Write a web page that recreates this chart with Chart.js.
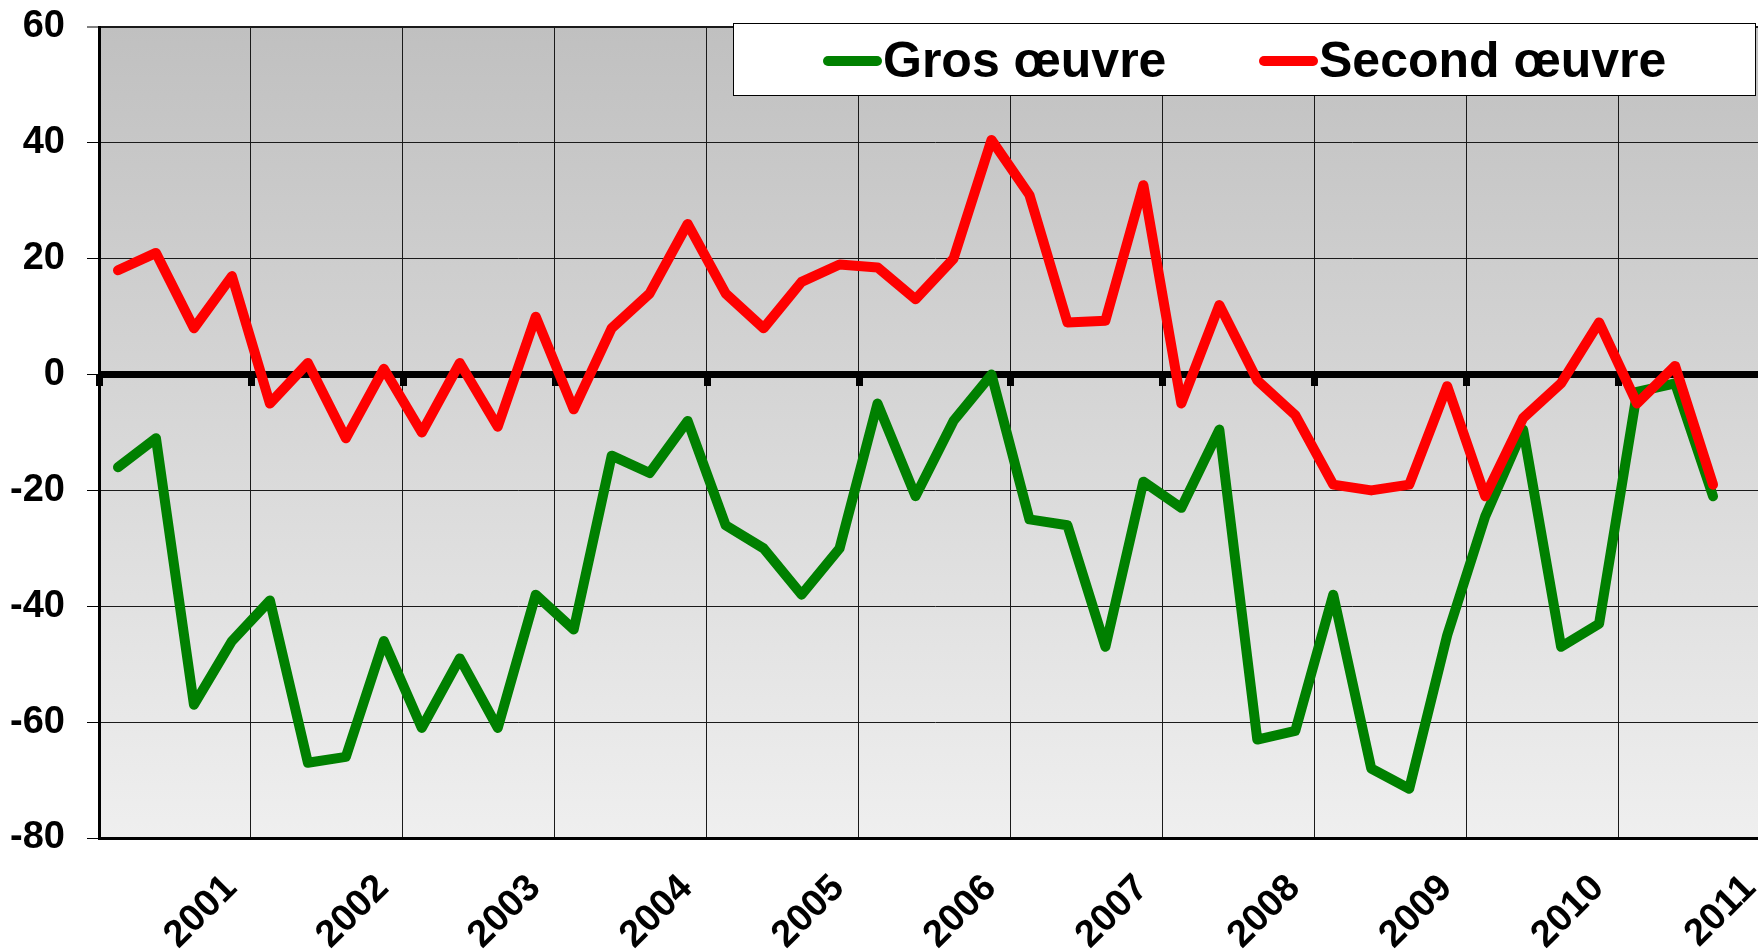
<!DOCTYPE html>
<html lang="fr">
<head>
<meta charset="utf-8">
<title>Gros œuvre / Second œuvre</title>
<script src="https://cdn.jsdelivr.net/npm/chart.js@4.4.1/dist/chart.umd.min.js"></script>
<style>
  html, body { margin: 0; padding: 0; background: #fff; overflow: hidden; width: 1758px; height: 951px; }
  #wrap { position: relative; width: 1758px; height: 951px; overflow: hidden; }
  #chart { position: absolute; left: 0; top: 0; }
  #legend {
    position: absolute; left: 733px; top: 23px; width: 1021px; height: 71px;
    border: 1px solid #000; background: #fff;
    font-family: "Liberation Sans", Arial, sans-serif; font-weight: bold; font-size: 50px; color: #000;
  }
  .swatch { position: absolute; top: 32px; width: 59px; height: 10px; border-radius: 5px; }
  .label { position: absolute; top: 11px; line-height: 50px; white-space: nowrap; }
</style>
</head>
<body>
<div id="wrap">
  <canvas id="chart" width="1770" height="951"></canvas>
  <div id="legend"></div>
</div>
<script>
// Quarterly balance of opinion, first quarter of 2000 onwards
const firstYear = 2000;
const lastYear = 2011;
const quartersPerYear = 4;

const yearLabels = ['2001', '2002', '2003', '2004', '2005', '2006', '2007', '2008', '2009', '2010', '2011'];

const seriesNames = ['Gros œuvre', 'Second œuvre'];
const seriesColors = ['#008000', '#ff0000'];

const grosOeuvre = [
  -16, -11, -57, -46,
  -39, -67, -66, -46,
  -61, -49, -61, -38,
  -44, -14, -17, -8,
  -26, -30, -38, -30,
  -5, -21, -8, 0,
  -25, -26, -47, -18.5,
  -23, -9.5, -63, -61.5,
  -38, -68, -71.5, -45,
  -24.5, -9.5, -47, -43,
  -3, -1.5, -21
];

const secondOeuvre = [
  18, 21, 8, 17,
  -5, 2, -11, 1,
  -10, 2, -9, 10,
  -6, 8, 14, 26,
  14, 8, 16, 19,
  18.5, 13, 20, 40.5,
  31, 9, 9.3, 32.7,
  -5, 12, -1, -7,
  -19, -20, -19, -2,
  -21, -7.5, -1.5, 9,
  -5, 1.5, -19
];

const yMin = -80;
const yMax = 60;
const yStep = 20;

const FONT = "'Liberation Sans', Arial, sans-serif";

// each quarter sits in the middle of its quarter-year slot
function toPoints(values) {
  return values.map((v, i) => ({ x: firstYear + (i + 0.5) / quartersPerYear, y: v }));
}

// shaded plot area: darker at the top, lighter towards the bottom
const plotBackground = {
  id: 'plotBackground',
  beforeDraw(chart) {
    const { ctx, chartArea: a } = chart;
    const g = ctx.createLinearGradient(0, a.top, 0, a.bottom);
    g.addColorStop(0, '#c0c0c0');
    g.addColorStop(1, '#efefef');
    ctx.save();
    ctx.fillStyle = g;
    ctx.fillRect(a.left, a.top, a.right - a.left, a.bottom - a.top);
    ctx.restore();
  }
};

// tick marks hanging below the zero axis at each year
const zeroAxisTicks = {
  id: 'zeroAxisTicks',
  beforeDatasetsDraw(chart) {
    const { ctx } = chart;
    const xs = chart.scales.x;
    const y0 = chart.scales.y.getPixelForValue(0);
    ctx.save();
    ctx.fillStyle = '#000';
    xs.ticks.forEach(t => {
      const px = xs.getPixelForValue(t.value);
      ctx.fillRect(Math.round(px) - 3, Math.round(y0), 7, 11);
    });
    ctx.restore();
  }
};

const datasets = [
  {
    label: seriesNames[0],
    data: toPoints(grosOeuvre),
    borderColor: seriesColors[0],
    order: 1
  },
  {
    label: seriesNames[1],
    data: toPoints(secondOeuvre),
    borderColor: seriesColors[1],
    order: 0
  }
].map(d => Object.assign({
  borderWidth: 10,
  borderCapStyle: 'round',
  borderJoinStyle: 'round',
  pointRadius: 0,
  pointHoverRadius: 0,
  fill: false,
  tension: 0
}, d));

new Chart(document.getElementById('chart'), {
  type: 'line',
  data: { datasets },
  plugins: [plotBackground, zeroAxisTicks],
  options: {
    responsive: false,
    animation: false,
    devicePixelRatio: 1,
    layout: { padding: { top: 27, left: 0, right: 0, bottom: 0 } },
    plugins: {
      legend: { display: false },
      tooltip: { enabled: false },
      title: { display: false }
    },
    scales: {
      x: {
        type: 'linear',
        min: firstYear,
        max: lastYear,
        afterFit(scale) {
          scale.height = 113;
          scale.paddingLeft = 0;
          scale.paddingRight = 0;
        },
        ticks: {
          stepSize: 1,
          autoSkip: false,
          maxRotation: 45,
          minRotation: 45,
          padding: 28,
          labelOffset: -20,
          color: '#000',
          font: { family: FONT, size: 38, weight: 'bold' },
          callback: v => (yearLabels.includes(String(v)) ? String(v) : '')
        },
        grid: { color: '#1a1a1a', lineWidth: 1, drawTicks: false },
        border: { display: true, color: '#000', width: 3 }
      },
      y: {
        min: yMin,
        max: yMax,
        afterFit(scale) {
          scale.width = 99;
          scale.paddingTop = 0;
          scale.paddingBottom = 0;
        },
        ticks: {
          stepSize: yStep,
          padding: 22,
          color: '#000',
          font: { family: FONT, size: 38, weight: 'bold' }
        },
        grid: {
          color: c => (c.tick && c.tick.value === 0 ? '#000' : '#1a1a1a'),
          lineWidth: c => (c.tick && c.tick.value === 0 ? 7 : (c.tick && c.tick.value === yMax ? 2 : 1)),
          tickLength: 12,
          tickColor: '#000',
          tickWidth: 1
        },
        border: { display: true, color: '#000', width: 3 }
      }
    }
  }
});

// legend box drawn over the top right of the plot
const legend = document.getElementById('legend');
const swatchLeft = [89, 525];
const labelLeft = [149, 585];
seriesNames.forEach((name, i) => {
  const sw = document.createElement('div');
  sw.className = 'swatch';
  sw.style.left = swatchLeft[i] + 'px';
  sw.style.background = seriesColors[i];
  legend.appendChild(sw);
  const lb = document.createElement('div');
  lb.className = 'label';
  lb.style.left = labelLeft[i] + 'px';
  lb.textContent = name;
  legend.appendChild(lb);
});
</script>
</body>
</html>
